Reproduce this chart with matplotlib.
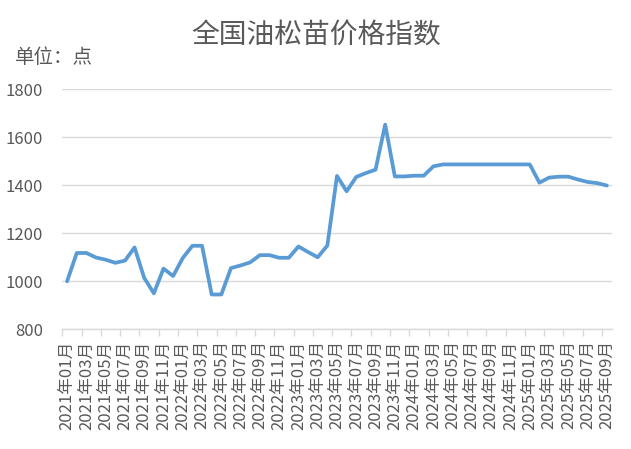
import matplotlib
matplotlib.use("Agg")
import matplotlib.pyplot as plt

plt.rcParams['font.family'] = ['Noto Sans CJK SC', 'DejaVu Sans']

# monthly index, 2021-01 .. 2025-09
months = [f"{y}年{m:02d}月" for y in range(2021, 2026) for m in range(1, 13)][:57]
values = [
    1000, 1118, 1118, 1099, 1090, 1077, 1086, 1141, 1014, 950,
    1053, 1022, 1097, 1148, 1148, 945, 945, 1055, 1066, 1079,
    1109, 1109, 1098, 1098, 1145, 1122, 1100, 1149, 1439, 1375,
    1435, 1451, 1465, 1653, 1437, 1437, 1440, 1440, 1479, 1487,
    1487, 1487, 1487, 1487, 1487, 1487, 1487, 1487, 1487, 1411,
    1432, 1436, 1436, 1424, 1414, 1409, 1399,
]

fig = plt.figure(figsize=(6.31, 4.49), dpi=100)
ax = fig.add_axes([0.0987, 0.2666, 0.8707, 0.5345])

x = list(range(len(values)))
ax.plot(x, values, color='#5B9BD5', lw=2.7, solid_joinstyle='round', solid_capstyle='round', zorder=3)

ax.set_xlim(-0.5, len(values) - 0.5)
ax.set_ylim(800, 1800)
ax.set_yticks(range(800, 1801, 200))
ax.yaxis.grid(True, color='#D9D9D9', lw=1)
ax.set_axisbelow(True)
for s in ['top', 'right', 'left']:
    ax.spines[s].set_visible(False)
ax.spines['bottom'].set_color('#D9D9D9')
ax.spines['bottom'].set_linewidth(1)

ax.tick_params(axis='y', length=0, pad=14, labelsize=12, labelcolor='#595959')
ax.set_xticks(x[::2])
ax.set_xticklabels(months[::2], rotation=90, fontsize=12, color='#595959')
ax.tick_params(axis='x', which='major', length=0, pad=8)
ax.set_xticks([i - 0.5 for i in range(0, len(values), 2)], minor=True)
ax.tick_params(axis='x', which='minor', length=5, color='#D9D9D9', width=1)

fig.text(0.501, 0.922, '全国油松苗价格指数', ha='center', va='center', fontsize=20, color='#595959')
fig.text(0.024, 0.871, '单位：点', ha='left', va='center', fontsize=14, color='#595959')

fig.savefig('out.png', dpi=100)
